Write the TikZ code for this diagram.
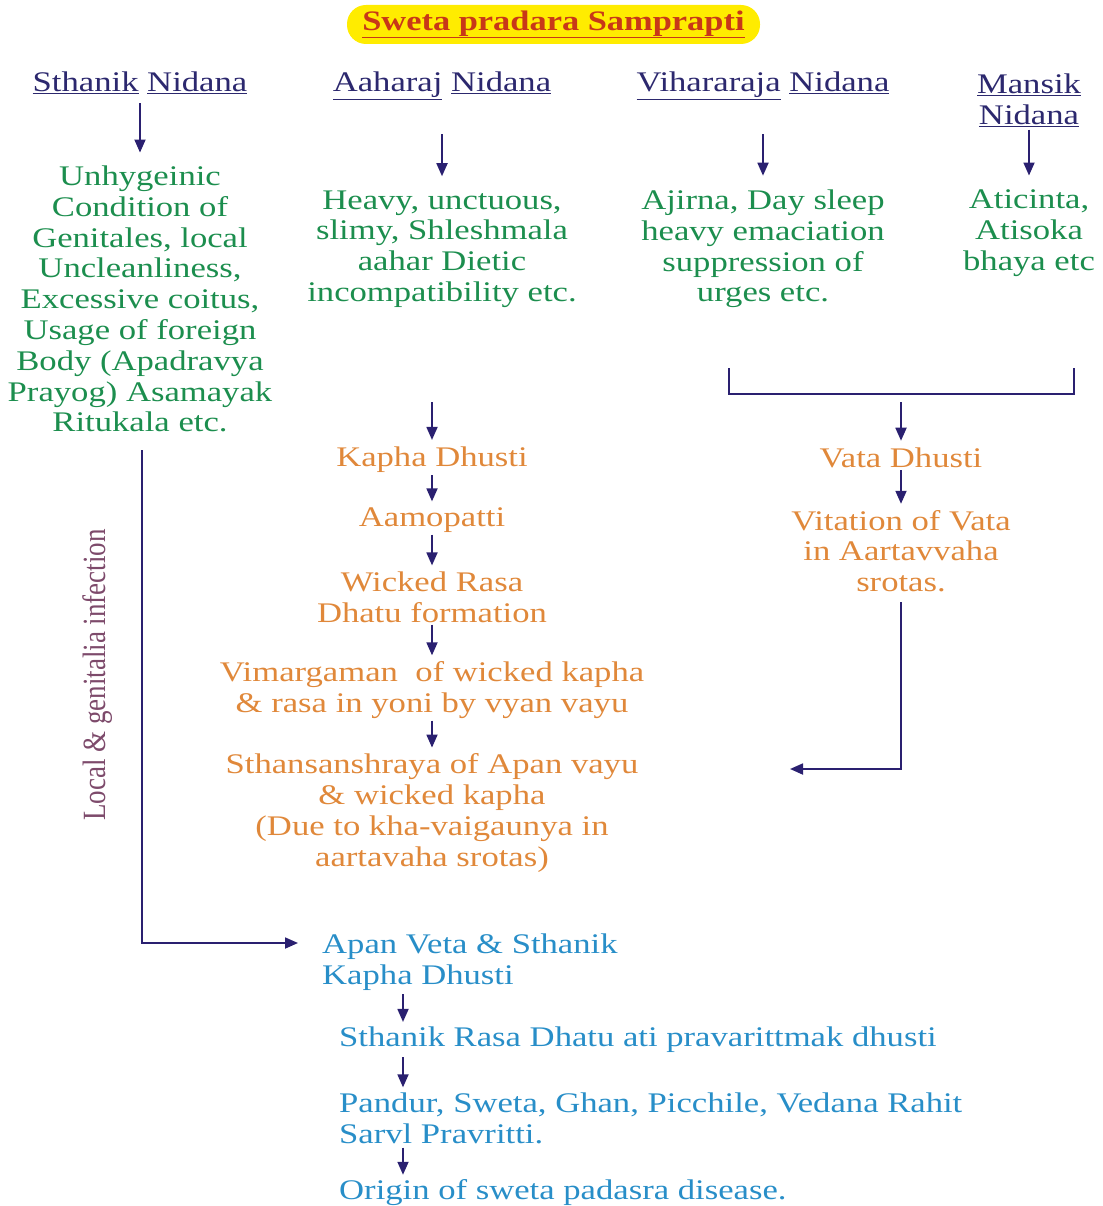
\documentclass[tikz,border=0pt]{standalone}
\usepackage{fontspec}
\setmainfont{Liberation Serif}[FakeStretch=1.22]
\newfontfamily\plainserif{Liberation Serif}
\usetikzlibrary{arrows.meta,calc}
\definecolor{navy}{RGB}{42,32,112}
\definecolor{hdr}{RGB}{44,40,110}
\definecolor{grn}{RGB}{28,142,78}
\definecolor{org}{RGB}{224,136,58}
\definecolor{blu}{RGB}{40,142,200}
\definecolor{mauve}{RGB}{125,74,107}
\definecolor{ttlred}{RGB}{200,56,24}
\definecolor{ttlyel}{RGB}{255,236,0}
\newcommand{\bigfont}{\fontsize{28.4}{30.8}\selectfont}
\tikzset{
  txt/.style={inner sep=0pt, align=center, font=\bigfont},
  hdrtxt/.style={txt, text=hdr},
  grntxt/.style={txt, text=grn},
  orgtxt/.style={txt, text=org},
  blutxt/.style={inner sep=0pt, align=left, font=\bigfont, text=blu, anchor=west},
  arr/.style={draw=navy, line width=1.8pt, -{Triangle[width=11pt,length=13pt]}},
  plainline/.style={draw=navy, line width=1.8pt}
}
\begin{document}
\begin{tikzpicture}[x=1pt,y=-1pt]
\useasboundingbox (0,0) rectangle (1102,1206);
% title
\node[fill=ttlyel, rounded corners=19pt, minimum width=413pt, minimum height=39pt, inner sep=0pt,
      font=\fontsize{28.2}{31}\selectfont\bfseries, text=ttlred] (title) at (553.5,24.5) {\underline{Sweta pradara Samprapti}};
% headers
\node[hdrtxt, anchor=base] (hSth) at (140,92) {\underline{Sthanik} \underline{Nidana}};
\node[hdrtxt, anchor=base] (hAah) at (442,92) {\underline{Aaharaj} \underline{Nidana}};
\node[hdrtxt, anchor=base] (hVih) at (763,92) {\underline{Vihararaja} \underline{Nidana}};
\node[hdrtxt] (hMan) at (1029,100) {\underline{Mansik}\\\underline{Nidana}};
% green blocks
\node[grntxt] (gSth) at (140,299) {Unhygeinic\\Condition of\\Genitales, local\\Uncleanliness,\\Excessive coitus,\\Usage of foreign\\Body (Apadravya\\Prayog) Asamayak\\Ritukala etc.};
\node[grntxt] (gAah) at (442,249) {Heavy, unctuous,\\slimy, Shleshmala\\aahar Dietic\\incompatibility etc.};
\node[grntxt] (gVih) at (763,249) {Ajirna, Day sleep\\heavy emaciation\\suppression of\\urges etc.};
\node[grntxt] (gMan) at (1029,233) {Aticinta,\\Atisoka\\bhaya etc};
% arrows from headers
\draw[arr, shorten <=9pt, shorten >=13pt] (hSth) -- (gSth);
\draw[arr, shorten <=34pt, shorten >=14pt] (hAah) -- (gAah);
\draw[arr, shorten <=34pt, shorten >=14pt] (hVih) -- (gVih);
\draw[arr, shorten <=3pt, shorten >=14pt] (hMan) -- (gMan);
% bracket
\coordinate (bL) at (729,368);
\coordinate (bR) at (1074,368);
\draw[plainline] (bL) -- ++(0,26) -| (bR);
% right column
\node[orgtxt] (oVata) at (901,458) {Vata Dhusti};
\node[orgtxt] (oVit) at (901,551) {Vitation of Vata\\in Aartavvaha\\srotas.};
\coordinate (aV) at (901,402);
\draw[arr, shorten >=7pt] (aV) -- (oVata);
\draw[arr, shorten <=2pt, shorten >=6pt] (oVata) -- (oVit);
% middle column
\node[orgtxt] (oKap) at (432,460) {Kapha Dhusti};
\node[orgtxt] (oAam) at (432,520) {Aamopatti};
\node[orgtxt] (oWic) at (432,597) {Wicked Rasa\\Dhatu formation};
\node[orgtxt] (oVim) at (432,690) {Vimargaman\ \ of wicked kapha\\\& rasa in yoni by vyan vayu};
\node[orgtxt] (oSth) at (432,813) {Sthansanshraya of Apan vayu\\\& wicked kapha\\(Due to kha-vaigaunya in\\aartavaha srotas)};
\coordinate (aK) at (432,402);
\draw[arr, shorten >=7pt] (aK) -- (oKap);
\draw[arr, shorten <=2pt, shorten >=6pt] (oKap) -- (oAam);
\draw[arr, shorten <=2pt, shorten >=6pt] (oAam) -- (oWic);
\draw[arr, shorten <=2pt, shorten >=6pt] (oWic) -- (oVim);
\draw[arr, shorten <=2pt, shorten >=6pt] (oVim) -- (oSth);
% vitation to sthansanshraya
\coordinate (vTip) at (790,769);
\draw[arr, shorten <=10pt] (oVit.south) |- (vTip);
% left long line
\coordinate (lS) at (142,450);
\coordinate (lTip) at (298,943);
\draw[arr] (lS) |- (lTip);
\node[inner sep=0pt, xscale=1.2, rotate=90, font=\plainserif\fontsize{27}{30}\selectfont, text=mauve] (vert) at (98,675) {Local \& genitalia infection};
% blue column
\node[blutxt] (bApan) at (322,962) {Apan Veta \& Sthanik\\Kapha Dhusti};
\node[blutxt] (bRasa) at (339,1040) {Sthanik Rasa Dhatu ati pravarittmak dhusti};
\node[blutxt] (bPan) at (339,1118) {Pandur, Sweta, Ghan, Picchile, Vedana Rahit\\Sarvl Pravritti.};
\node[blutxt] (bOri) at (339,1193) {Origin of sweta padasra disease.};
\coordinate (bx) at (403,0);
\draw[arr, shorten <=4pt, shorten >=5pt] (bApan.south -| bx) -- (bRasa.north -| bx);
\draw[arr, shorten <=4pt, shorten >=5pt] (bRasa.south -| bx) -- (bPan.north -| bx);
\draw[arr, shorten <=4pt, shorten >=5pt] (bPan.south -| bx) -- (bOri.north -| bx);
\end{tikzpicture}
\end{document}
